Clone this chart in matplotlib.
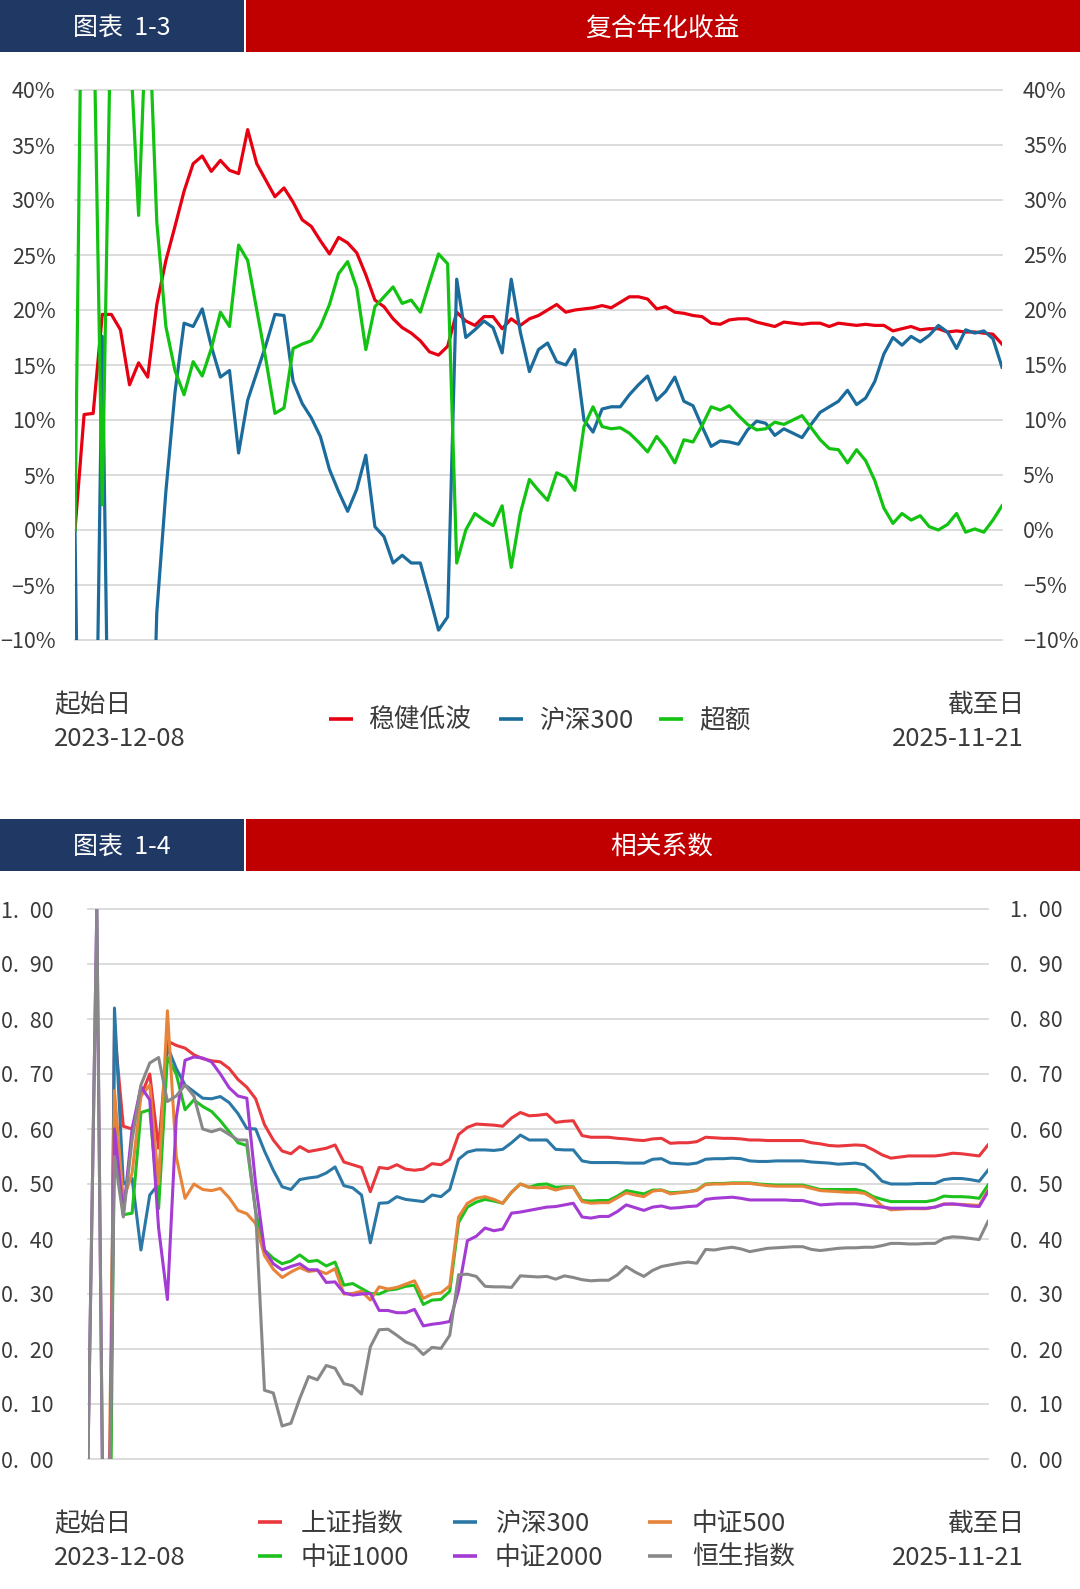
import numpy as np
import matplotlib
matplotlib.use('Agg')
import matplotlib.pyplot as plt
from matplotlib.patches import Rectangle

plt.rcParams['font.family'] = ['Noto Sans CJK SC', 'DejaVu Sans']

start_date = '2023-12-08'
end_date = '2025-11-21'

# ---- chart 1-3: compound annualised return (%), weekly points ----
ret_names = ['稳健低波', '沪深300', '超额']
ret_colors = ['#E60012', '#1B6C9C', '#12C312']
ret_steady = [0, 10.5, 10.6, 19.6, 19.6, 18.2, 13.2, 15.2, 13.9, 20.5,
              24.5, 27.6, 30.8, 33.3, 34.0, 32.6, 33.6, 32.7, 32.4, 36.4,
              33.3, 31.8, 30.3, 31.1, 29.8, 28.2, 27.6, 26.3, 25.1, 26.6,
              26.1, 25.2, 23.2, 20.9, 20.3, 19.2, 18.4, 17.9, 17.2, 16.2,
              15.9, 16.7, 19.8, 19.0, 18.6, 19.4, 19.4, 18.3, 19.2, 18.6,
              19.2, 19.5, 20.0, 20.5, 19.8, 20.0, 20.1, 20.2, 20.4, 20.2,
              20.7, 21.2, 21.2, 21.0, 20.1, 20.3, 19.8, 19.7, 19.5, 19.4,
              18.8, 18.7, 19.1, 19.2, 19.2, 18.9, 18.7, 18.5, 18.9, 18.8,
              18.7, 18.8, 18.8, 18.5, 18.8, 18.7, 18.6, 18.7, 18.6, 18.6,
              18.1, 18.3, 18.5, 18.2, 18.3, 18.3, 18.0, 18.1, 18.0, 18.0,
              17.9, 17.8, 16.9]
ret_hs300 = [0, -60, -40, 17.6, -40, -35, -30, -13.4, -36, -7.5,
             3.5, 12.5, 18.8, 18.5, 20.1, 16.7, 13.9, 14.5, 7.0, 11.8,
             14.3, 16.8, 19.6, 19.5, 13.5, 11.5, 10.2, 8.5, 5.5, 3.5,
             1.7, 3.7, 6.8, 0.3, -0.6, -3.0, -2.3, -3.0, -3.0, -6.0,
             -9.1, -7.9, 22.8, 17.5, 18.2, 19.0, 18.4, 16.1, 22.8, 18.0,
             14.4, 16.4, 17.0, 15.3, 15.0, 16.4, 10.0, 8.9, 11.0, 11.2,
             11.2, 12.3, 13.2, 14.0, 11.8, 12.6, 13.9, 11.7, 11.3, 9.4,
             7.6, 8.1, 8.0, 7.8, 9.1, 9.9, 9.7, 8.6, 9.2, 8.8,
             8.4, 9.6, 10.7, 11.2, 11.7, 12.7, 11.4, 12.0, 13.5, 16.0,
             17.5, 16.8, 17.6, 17.1, 17.7, 18.6, 18.0, 16.5, 18.2, 17.9,
             18.1, 17.4, 14.8]
ret_excess = [0, 70, 50, 2.3, 50, 90, 45, 28.6, 50, 28,
              18.5, 14.5, 12.3, 15.3, 14.0, 16.5, 19.8, 18.5, 25.9, 24.5,
              20.0, 15.5, 10.6, 11.1, 16.5, 16.9, 17.2, 18.5, 20.5, 23.3,
              24.4, 22.0, 16.4, 20.3, 21.2, 22.1, 20.6, 20.9, 19.8, 22.5,
              25.1, 24.2, -3.0, 0.0, 1.5, 0.9, 0.4, 2.2, -3.4, 1.5,
              4.6, 3.6, 2.7, 5.2, 4.8, 3.6, 9.4, 11.2, 9.4, 9.2,
              9.3, 8.8, 8.0, 7.1, 8.5, 7.5, 6.1, 8.2, 8.0, 9.5,
              11.2, 10.9, 11.3, 10.4, 9.6, 9.1, 9.2, 9.8, 9.6, 10.0,
              10.4, 9.3, 8.2, 7.4, 7.3, 6.1, 7.3, 6.3, 4.5, 2.0,
              0.6, 1.5, 0.9, 1.3, 0.3, 0.0, 0.5, 1.5, -0.2, 0.1,
              -0.2, 0.9, 2.2]
ret_ticks = [40, 35, 30, 25, 20, 15, 10, 5, 0, -5, -10]
ret_ticklabels = ['40%', '35%', '30%', '25%', '20%', '15%', '10%', '5%', '0%', '−5%', '−10%']

# ---- chart 1-4: correlation, weekly points ----
corr_names = ['上证指数', '沪深300', '中证500', '中证1000', '中证2000', '恒生指数']
corr_colors = ['#E8383D', '#2B78A6', '#E8843A', '#1EC21E', '#A43BD4', '#888888']
corr_sh = [0, -0.5, -1.0, 0.78, 0.605, 0.60, 0.66, 0.70, 0.565, 0.76,
           0.752, 0.747, 0.735, 0.728, 0.724, 0.722, 0.71, 0.69, 0.676, 0.655,
           0.608, 0.58, 0.56, 0.555, 0.568, 0.559, 0.562, 0.565, 0.571, 0.54,
           0.535, 0.53, 0.486, 0.53, 0.528, 0.535, 0.527, 0.525, 0.527, 0.537,
           0.535, 0.545, 0.59, 0.603, 0.609, 0.608, 0.607, 0.605, 0.62, 0.63,
           0.624, 0.625, 0.627, 0.612, 0.614, 0.615, 0.588, 0.585, 0.585, 0.585,
           0.583, 0.582, 0.58, 0.579, 0.582, 0.583, 0.574, 0.575, 0.575, 0.577,
           0.585, 0.584, 0.583, 0.583, 0.582, 0.58, 0.58, 0.579, 0.579, 0.579,
           0.579, 0.579, 0.575, 0.573, 0.57, 0.569, 0.57, 0.571, 0.57, 0.562,
           0.553, 0.547, 0.549, 0.551, 0.551, 0.551, 0.551, 0.553, 0.556, 0.555,
           0.553, 0.551, 0.571]
corr_hs300 = [0, -0.5, -1.0, 0.82, 0.50, 0.51, 0.38, 0.48, 0.50, 0.75,
              0.71, 0.68, 0.668, 0.656, 0.655, 0.659, 0.648, 0.628, 0.601, 0.60,
              0.56, 0.525, 0.495, 0.49, 0.508, 0.511, 0.513, 0.52, 0.531, 0.497,
              0.493, 0.48, 0.393, 0.465, 0.466, 0.477, 0.472, 0.47, 0.468, 0.48,
              0.477, 0.49, 0.545, 0.558, 0.562, 0.562, 0.561, 0.563, 0.575, 0.589,
              0.58, 0.58, 0.58, 0.563, 0.562, 0.562, 0.542, 0.539, 0.539, 0.539,
              0.539, 0.538, 0.538, 0.538, 0.545, 0.546, 0.538, 0.537, 0.536, 0.538,
              0.545, 0.546, 0.546, 0.547, 0.546, 0.542, 0.541, 0.541, 0.542, 0.542,
              0.542, 0.542, 0.54, 0.539, 0.538, 0.536, 0.537, 0.538, 0.535, 0.522,
              0.505, 0.50, 0.50, 0.50, 0.501, 0.501, 0.501, 0.508, 0.51, 0.51,
              0.508, 0.505, 0.525]
corr_zz500 = [0, -0.5, -0.5, 0.67, 0.47, 0.52, 0.66, 0.68, 0.50, 0.815,
              0.55, 0.474, 0.50, 0.49, 0.488, 0.492, 0.475, 0.452, 0.446, 0.428,
              0.37, 0.345, 0.33, 0.34, 0.348, 0.341, 0.343, 0.337, 0.346, 0.30,
              0.301, 0.305, 0.289, 0.313, 0.309, 0.312, 0.318, 0.324, 0.292, 0.30,
              0.302, 0.315, 0.44, 0.465, 0.474, 0.477, 0.472, 0.465, 0.485, 0.50,
              0.494, 0.493, 0.494, 0.489, 0.493, 0.494, 0.468, 0.465, 0.466, 0.466,
              0.475, 0.484, 0.48, 0.477, 0.487, 0.489, 0.482, 0.484, 0.486, 0.488,
              0.499, 0.50, 0.50, 0.501, 0.501, 0.501, 0.499, 0.497, 0.496, 0.496,
              0.496, 0.496, 0.492, 0.488, 0.487, 0.486, 0.485, 0.485, 0.483, 0.474,
              0.46, 0.453, 0.454, 0.455, 0.455, 0.455, 0.458, 0.464, 0.463, 0.463,
              0.462, 0.461, 0.489]
corr_zz1000 = [0, -0.5, -1.0, 0.62, 0.444, 0.447, 0.63, 0.635, 0.455, 0.73,
               0.70, 0.635, 0.653, 0.641, 0.632, 0.615, 0.595, 0.575, 0.57, 0.45,
               0.38, 0.365, 0.355, 0.36, 0.371, 0.359, 0.361, 0.351, 0.358, 0.316,
               0.319, 0.31, 0.301, 0.30, 0.307, 0.309, 0.314, 0.316, 0.281, 0.289,
               0.29, 0.305, 0.43, 0.458, 0.467, 0.472, 0.469, 0.465, 0.485, 0.50,
               0.494, 0.499, 0.50, 0.494, 0.495, 0.495, 0.47, 0.469, 0.47, 0.47,
               0.478, 0.488, 0.485, 0.482, 0.489, 0.489, 0.484, 0.485, 0.486, 0.489,
               0.50, 0.501, 0.501, 0.502, 0.502, 0.502, 0.50, 0.499, 0.498, 0.498,
               0.498, 0.498, 0.494, 0.49, 0.49, 0.49, 0.49, 0.49, 0.486, 0.477,
               0.472, 0.468, 0.468, 0.468, 0.468, 0.468, 0.471, 0.478, 0.477, 0.477,
               0.476, 0.474, 0.498]
corr_zz2000 = [0, 1.0, -0.6, 0.60, 0.445, 0.60, 0.677, 0.653, 0.42, 0.29,
               0.62, 0.725, 0.731, 0.729, 0.722, 0.70, 0.675, 0.66, 0.656, 0.50,
               0.38, 0.355, 0.344, 0.35, 0.355, 0.344, 0.344, 0.321, 0.322, 0.302,
               0.298, 0.30, 0.301, 0.27, 0.27, 0.266, 0.266, 0.272, 0.242, 0.245,
               0.247, 0.25, 0.307, 0.397, 0.405, 0.42, 0.415, 0.418, 0.447, 0.449,
               0.452, 0.455, 0.458, 0.459, 0.462, 0.465, 0.44, 0.438, 0.441, 0.441,
               0.45, 0.462, 0.457, 0.452, 0.458, 0.46, 0.456, 0.457, 0.459, 0.46,
               0.472, 0.474, 0.475, 0.476, 0.474, 0.471, 0.471, 0.471, 0.471, 0.471,
               0.47, 0.47, 0.466, 0.462, 0.463, 0.464, 0.464, 0.464, 0.462, 0.46,
               0.458, 0.456, 0.456, 0.456, 0.456, 0.456, 0.458, 0.463, 0.464, 0.462,
               0.46, 0.459, 0.486]
corr_hsi = [0, 1.0, -0.6, 0.55, 0.44, 0.58, 0.68, 0.72, 0.73, 0.65,
            0.66, 0.68, 0.66, 0.60, 0.595, 0.60, 0.59, 0.58, 0.58, 0.45,
            0.125, 0.12, 0.06, 0.065, 0.11, 0.15, 0.144, 0.17, 0.165, 0.137,
            0.133, 0.118, 0.204, 0.235, 0.236, 0.225, 0.213, 0.206, 0.19, 0.203,
            0.201, 0.225, 0.335, 0.336, 0.332, 0.314, 0.313, 0.313, 0.312, 0.333,
            0.332, 0.331, 0.332, 0.327, 0.333, 0.33, 0.326, 0.324, 0.325, 0.325,
            0.335, 0.35, 0.34, 0.332, 0.343, 0.35, 0.353, 0.356, 0.358, 0.356,
            0.381, 0.38, 0.383, 0.385, 0.382, 0.377, 0.38, 0.383, 0.384, 0.385,
            0.386, 0.386, 0.381, 0.379, 0.381, 0.383, 0.384, 0.384, 0.385, 0.385,
            0.388, 0.392, 0.392, 0.391, 0.391, 0.392, 0.392, 0.401, 0.404, 0.403,
            0.401, 0.399, 0.432]
corr_ticks = [1.0, 0.9, 0.8, 0.7, 0.6, 0.5, 0.4, 0.3, 0.2, 0.1, 0.0]
corr_ticklabels = ['1.\u200200', '0.\u200290', '0.\u200280', '0.\u200270',
                   '0.\u200260', '0.\u200250', '0.\u200240', '0.\u200230',
                   '0.\u200220', '0.\u200210', '0.\u200200']

W, H = 1080, 1589
NAVY = '#203864'
RED = '#C00000'
TXT = '#3A3A3A'

fig = plt.figure(figsize=(W / 100, H / 100), dpi=100)
fig.patch.set_facecolor('white')

# full-figure overlay in pixel coords for headers / footers
bg = fig.add_axes([0, 0, 1, 1])
bg.set_xlim(0, W)
bg.set_ylim(H, 0)
bg.axis('off')


def header(y0, label, title):
    bg.add_patch(Rectangle((0, y0), 244, 52, color=NAVY, lw=0))
    bg.add_patch(Rectangle((246, y0), W - 246, 52, color=RED, lw=0))
    bg.text(122, y0 + 29, label, color='white', fontsize=18, ha='center', va='center')
    bg.text(662, y0 + 29, title, color='white', fontsize=18.5, ha='center', va='center')


def chart_axes(x0, x1, ytop, ybot, ylim, ticks, labels, lpad, rpad):
    ax = fig.add_axes([x0 / W, 1 - ybot / H, (x1 - x0) / W, (ybot - ytop) / H])
    ax.set_xlim(0, 102)
    ax.set_ylim(*ylim)
    ax.set_xticks([])
    ax.set_yticks(ticks)
    ax.set_yticklabels(labels)
    ax.tick_params(axis='y', length=0, pad=lpad, labelsize=15.5, labelcolor=TXT)
    ax.grid(axis='y', color='#D9D9D9', lw=1.3)
    for g in ax.get_ygridlines():
        g.set_clip_on(False)
    ax.set_axisbelow(True)
    for s in ax.spines.values():
        s.set_visible(False)
    ax.patch.set_alpha(0)
    axr = ax.twinx()
    axr.set_ylim(*ylim)
    axr.set_yticks(ticks)
    axr.set_yticklabels(labels)
    axr.tick_params(axis='y', length=0, pad=rpad, labelsize=15.5, labelcolor=TXT)
    for s in axr.spines.values():
        s.set_visible(False)
    return ax


def footer(y1, y2):
    bg.text(54, y1, '起始日', fontsize=18.5, color=TXT, ha='left', va='center')
    bg.text(54, y2, start_date, fontsize=18.5, color=TXT, ha='left', va='center')
    bg.text(1024, y1, '截至日', fontsize=18.5, color=TXT, ha='right', va='center')
    bg.text(1024, y2, end_date, fontsize=18.5, color=TXT, ha='right', va='center')


def legend_item(xl, xt, y, color, name):
    bg.plot([xl, xl + 24], [y - 2, y - 2], color=color, lw=2.6, solid_capstyle='butt')
    bg.text(xt, y, name, fontsize=18.5, color=TXT, ha='left', va='center')


# ---------- chart 1-3 ----------
header(0, '图表  1-3', '复合年化收益')
ax1 = chart_axes(75, 1002, 90, 640, (-10, 40), ret_ticks, ret_ticklabels, 14, 15)
for vals, c in zip([ret_steady, ret_hs300, ret_excess], ret_colors):
    ax1.plot(np.arange(len(vals)), vals, color=c, lw=2.3, solid_joinstyle='round')

footer(705, 739)
for (xl, xt), c, n in zip([(329, 368), (499, 539), (659, 699)], ret_colors, ret_names):
    legend_item(xl, xt, 721, c, n)

# ---------- chart 1-4 ----------
header(819, '图表  1-4', '相关系数')
ax2 = chart_axes(88, 988, 909, 1459, (0, 1), corr_ticks, corr_ticklabels, 25, 16)
corr_series = [corr_sh, corr_hs300, corr_zz500, corr_zz1000, corr_zz2000, corr_hsi]
for k in [0, 1, 3, 2, 4, 5]:
    vals = corr_series[k]
    ax2.plot(np.arange(len(vals)), vals, color=corr_colors[k], lw=2.2,
             solid_joinstyle='round')

footer(1524, 1558)
cols = [(258, 301), (453, 495), (648, 692)]
for k, (n, c) in enumerate(zip(corr_names, corr_colors)):
    xl, xt = cols[k % 3]
    y = 1524 if k < 3 else 1558
    legend_item(xl, xt, y, c, n)

fig.savefig('out.png', dpi=100, facecolor='white')
